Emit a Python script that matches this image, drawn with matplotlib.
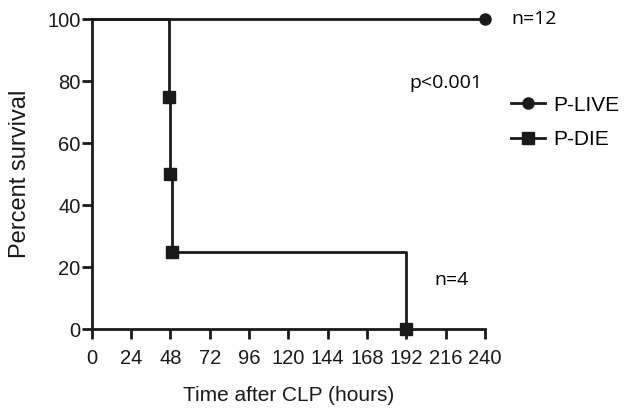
import matplotlib.pyplot as plt
import numpy as np

# survival data
live_t = [0, 240]
live_s = [100, 100]
live_mark_t = [240]
live_mark_s = [100]

die_t = [0, 47, 47, 48, 48, 49, 49, 192, 192]
die_s = [100, 100, 75, 75, 50, 50, 25, 25, 0]
die_mark_t = [47, 48, 49, 192]
die_mark_s = [75, 50, 25, 0]

xticks = np.arange(0, 241, 24)
yticks = np.arange(0, 101, 20)

plt.rcParams['font.family'] = ['Liberation Sans', 'DejaVu Sans']

fig = plt.figure(figsize=(6.29, 4.16), dpi=100)
ax = fig.add_axes([0.146, 0.209, 0.625, 0.745])

ax.plot(live_t, live_s, color='#1a1a1a', lw=2, clip_on=False)
ax.plot(live_mark_t, live_mark_s, 'o', color='#1a1a1a', ms=8, clip_on=False)
ax.plot(die_t, die_s, color='#1a1a1a', lw=2, clip_on=False)
ax.plot(die_mark_t, die_mark_s, 's', color='#1a1a1a', ms=8, clip_on=False)

# legend proxies
ax.plot([], [], '-o', color='#1a1a1a', lw=2, ms=8, label='P-LIVE')
ax.plot([], [], '-s', color='#1a1a1a', lw=2, ms=8, label='P-DIE')
handles, labels = ax.get_legend_handles_labels()
fig.legend(handles, labels, loc='upper left', bbox_to_anchor=(0.783, 0.815),
           frameon=False, fontsize=15, handlelength=1.6, handletextpad=0.4,
           labelspacing=0.75)

ax.set_xlim(0, 240)
ax.set_ylim(0, 100)
ax.set_xticks(xticks)
ax.set_yticks(yticks)
ax.spines['top'].set_visible(False)
ax.spines['right'].set_visible(False)
for s in ['left', 'bottom']:
    ax.spines[s].set_linewidth(2)
    ax.spines[s].set_color('#1a1a1a')
ax.tick_params(width=2, length=7, colors='#1a1a1a', labelsize=14.5)
ax.tick_params(axis='x', pad=7)
ax.tick_params(axis='y', pad=1)

ax.set_xlabel('Time after CLP (hours)', fontsize=15, labelpad=13, color='#1a1a1a')
ax.set_ylabel('Percent survival', fontsize=17, labelpad=12, color='#1a1a1a')

fig.text(0.813, 0.955, 'n=12', fontsize=14, va='center', family=['Open Sans', 'DejaVu Sans'])
fig.text(0.651, 0.80, 'p<0.001', fontsize=14, va='center', family=['Open Sans', 'DejaVu Sans'])
fig.text(0.69, 0.327, 'n=4', fontsize=14, va='center', family=['Open Sans', 'DejaVu Sans'])

fig.savefig('out.png', dpi=100)
